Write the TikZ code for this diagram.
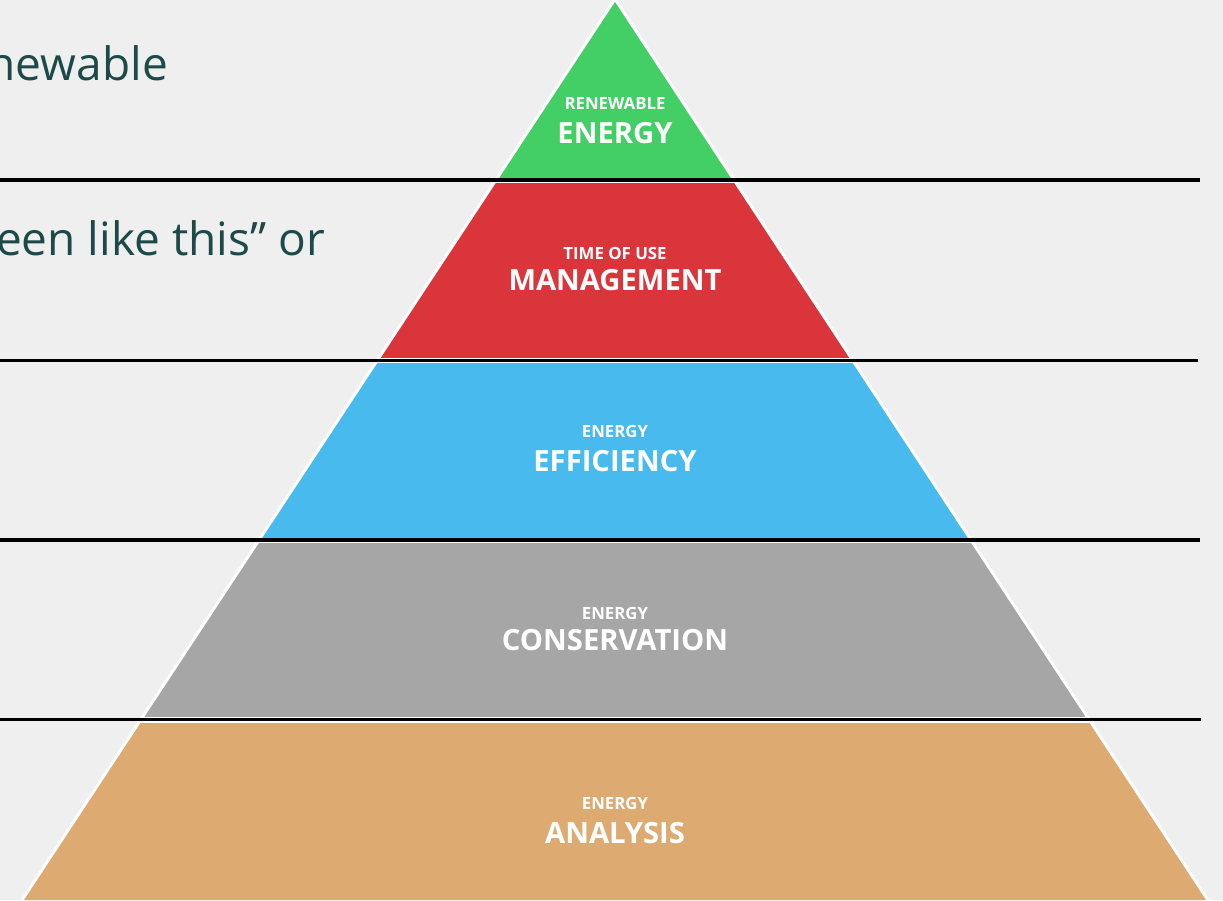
\documentclass[tikz,border=0pt]{standalone}
\usepackage{fontspec}
\setmainfont{Open Sans}
\newfontfamily\labelfont{Open Sans}[BoldFont={* Bold}]
\begin{document}
\begin{tikzpicture}[x=1pt,y=-1pt,
  small/.style={text=white,font=\labelfont\bfseries\fontsize{16.8}{18}\selectfont,inner sep=0pt},
  big/.style={text=white,font=\labelfont\bfseries\fontsize{29.2}{32}\selectfont,inner sep=0pt},
  side/.style={text=sidetext,font=\fontsize{46}{52}\selectfont,inner sep=0pt,anchor=base east},
  sep/.style={draw=black,line width=3.8pt}]
\definecolor{bg}{RGB}{239,239,239}
\definecolor{cgreen}{RGB}{68,207,102}
\definecolor{cred}{RGB}{219,53,60}
\definecolor{cblue}{RGB}{72,186,238}
\definecolor{cgray}{RGB}{166,166,166}
\definecolor{corange}{RGB}{221,170,114}
\definecolor{sidetext}{RGB}{27,74,72}
\useasboundingbox (0,0) rectangle (1223,900);
\fill[bg] (0,0) rectangle (1223,900);
\coordinate (apex) at (615,2);
\coordinate (bl) at (24,900);
\coordinate (br) at (1206,900);
\draw[white,line width=6pt,line join=round] (apex) -- (bl) -- (br) -- cycle;
\begin{scope}
  \clip (apex) -- (bl) -- (br) -- cycle;
  \fill[cgreen] (0,0) rectangle (1223,178);
  \fill[white] (0,178) rectangle (1223,183);
  \fill[cred] (0,183) rectangle (1223,358);
  \fill[white] (0,358) rectangle (1223,363);
  \fill[cblue] (0,363) rectangle (1223,538);
  \fill[white] (0,538) rectangle (1223,543);
  \fill[cgray] (0,543) rectangle (1223,717);
  \fill[white] (0,717) rectangle (1223,723);
  \fill[corange] (0,723) rectangle (1223,905);
\end{scope}
\coordinate (l1a) at (0,180); \coordinate (l1b) at (1200,180);
\coordinate (l2a) at (0,360.5); \coordinate (l2b) at (1198,360.5);
\coordinate (l3a) at (0,540); \coordinate (l3b) at (1200,540);
\coordinate (l4a) at (0,719.5); \coordinate (l4b) at (1201,719.5);
\draw[sep] (l1a) -- (l1b);
\draw[sep] (l2a) -- (l2b);
\draw[sep] (l3a) -- (l3b);
\draw[sep] (l4a) -- (l4b);
\node[small] (s1) at (615,103) {RENEWABLE};
\node[big] (b1) at (615,133) {ENERGY};
\node[small] (s2) at (615,253) {TIME OF USE};
\node[big] (b2) at (615,280) {MANAGEMENT};
\node[small] (s3) at (615,431) {ENERGY};
\node[big] (b3) at (615,461) {EFFICIENCY};
\node[small] (s4) at (615,613) {ENERGY};
\node[big] (b4) at (615,640) {CONSERVATION};
\node[small] (s5) at (615,803) {ENERGY};
\node[big] (b5) at (615,833) {ANALYSIS};
\node[side] (t1) at (168,80) {newable};
\node[side] (t2) at (325,255) {een like this” or};
\end{tikzpicture}
\end{document}
